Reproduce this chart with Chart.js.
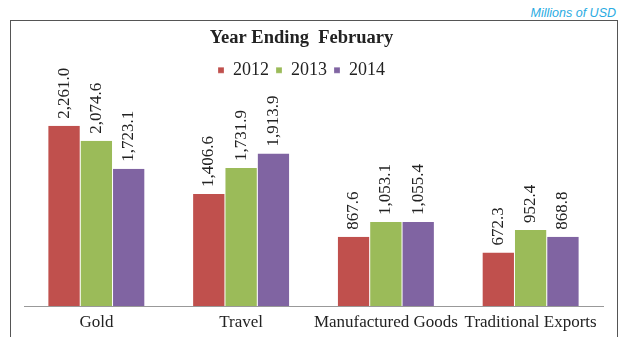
<!DOCTYPE html>
<html>
<head>
<meta charset="utf-8">
<script src="https://cdn.jsdelivr.net/npm/chart.js@4"></script>
<style>
  html, body { margin:0; padding:0; background:#fff; }
  #wrap { position:relative; width:619px; height:337px; overflow:hidden; }
  #frame { position:absolute; left:10px; top:20px; width:608px; height:340px; border:1.5px solid #555; box-sizing:border-box; }
  #unit { position:absolute; right:3px; top:6px; font:italic 12.5px "Liberation Sans", Arial, sans-serif; color:#29ABE2; }
  canvas { position:absolute; left:0; top:0; }
</style>
</head>
<body>
<div id="wrap">
  <div id="frame"></div>
  <div id="unit">Millions of USD</div>
  <canvas id="chart" width="619" height="332"></canvas>
</div>
<script>
const categories = ['Gold', 'Travel', 'Manufactured Goods', 'Traditional Exports'];
const years = ['2012', '2013', '2014'];
const values2012 = [2261.0, 1406.6, 867.6, 672.3];
const values2013 = [2074.6, 1731.9, 1053.1, 952.4];
const values2014 = [1723.1, 1913.9, 1055.4, 868.8];
const colors = ['#C0504D', '#9BBB59', '#8064A2'];

const serif = '"Liberation Serif", "Times New Roman", serif';

// rotated value labels above each bar
const valueLabels = {
  id: 'valueLabels',
  afterDatasetsDraw(chart) {
    const c = chart.ctx;
    c.save();
    c.font = '17px ' + serif;
    c.fillStyle = '#222';
    c.textAlign = 'left';
    c.textBaseline = 'middle';
    chart.data.datasets.forEach((ds, i) => {
      chart.getDatasetMeta(i).data.forEach((bar, j) => {
        const txt = ds.data[j].toLocaleString('en-US', { minimumFractionDigits: 1, maximumFractionDigits: 1 });
        c.save();
        c.translate(bar.x, bar.y - 7);
        c.rotate(-Math.PI / 2);
        c.fillText(txt, 0, 0);
        c.restore();
      });
    });
    c.restore();
  }
};

new Chart(document.getElementById('chart'), {
  type: 'bar',
  data: {
    labels: categories,
    datasets: [values2012, values2013, values2014].map((d, i) => ({
      label: years[i],
      data: d,
      backgroundColor: colors[i],
      borderColor: '#fff',
      borderWidth: { left: 0.5, right: 0.5, top: 0, bottom: 0 },
      categoryPercentage: 0.67,
      barPercentage: 1.0
    }))
  },
  options: {
    responsive: false,
    animation: false,
    layout: { padding: { left: 0, right: 16, top: 0, bottom: 1 } },
    plugins: {
      title: {
        display: true,
        text: 'Year Ending  February',
        color: '#222',
        font: { family: serif, size: 18.5, weight: 'bold' },
        padding: { top: 27, bottom: 5 }
      },
      legend: {
        display: true,
        labels: {
          color: '#222',
          font: { family: serif, size: 18 },
          boxWidth: 6,
          boxHeight: 6,
          padding: 7
        }
      },
      tooltip: { enabled: false }
    },
    scales: {
      x: {
        grid: { display: false },
        border: { display: true, color: '#999', width: 1 },
        ticks: { color: '#222', font: { family: serif, size: 17, lineHeight: 1.0 }, padding: 0, maxRotation: 0, autoSkip: false }
      },
      y: {
        display: true,
        min: 0,
        max: 2720,
        grid: { display: false },
        border: { display: false },
        ticks: { display: false },
        afterFit(scale) { scale.width = 24; }
      }
    }
  },
  plugins: [valueLabels]
});
</script>
</body>
</html>
